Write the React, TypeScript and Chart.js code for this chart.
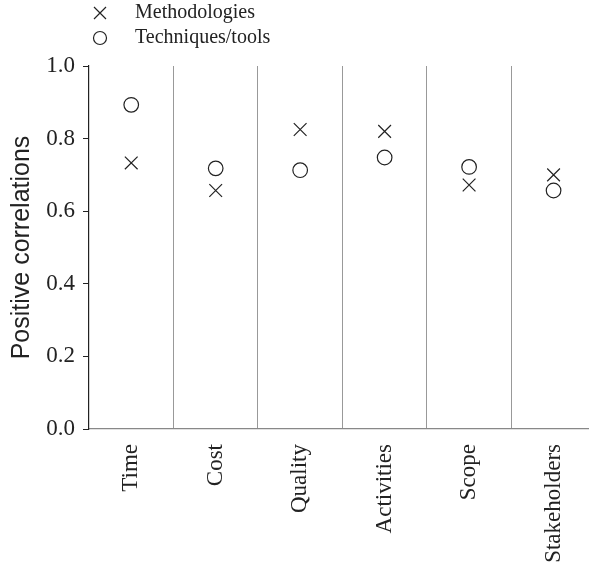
import React, { useEffect, useRef } from "react";
import { Chart, registerables } from "chart.js";

Chart.register(...registerables);

const categories = ["Time", "Cost", "Quality", "Activities", "Scope", "Stakeholders"];
const methodologies = [0.733, 0.657, 0.825, 0.82, 0.672, 0.7];
const techniquesTools = [0.893, 0.718, 0.713, 0.748, 0.722, 0.657];
const yTicks = [0, 0.2, 0.4, 0.6, 0.8, 1.0];
const seriesNames = ["Methodologies", "Techniques/tools"];

const INK = "#222";
const SERIF = "'Liberation Serif', 'Times New Roman', serif";
const SANS = "'Liberation Sans', Arial, sans-serif";

const legendPlugin = {
  id: "customLegend",
  afterDraw(chart: any) {
    const ctx = chart.ctx;
    ctx.save();
    ctx.strokeStyle = INK;
    ctx.lineWidth = 1.2;
    const cx = 100, cy1 = 13, cy2 = 38, h = 6;
    ctx.beginPath();
    ctx.moveTo(cx - h, cy1 - h);
    ctx.lineTo(cx + h, cy1 + h);
    ctx.moveTo(cx + h, cy1 - h);
    ctx.lineTo(cx - h, cy1 + h);
    ctx.stroke();
    ctx.beginPath();
    ctx.arc(cx, cy2, 6.5, 0, Math.PI * 2);
    ctx.fillStyle = "#fff";
    ctx.fill();
    ctx.stroke();
    ctx.fillStyle = INK;
    ctx.font = `20px ${SERIF}`;
    ctx.textBaseline = "middle";
    ctx.textAlign = "left";
    ctx.fillText(seriesNames[0], 135, cy1);
    ctx.fillText(seriesNames[1], 135, cy2);
    ctx.restore();
  },
};

export default function App() {
  const ref = useRef<HTMLCanvasElement>(null);
  useEffect(() => {
    document.body.style.margin = "0";
    const chart = new Chart(ref.current!, {
      type: "line",
      data: {
        labels: categories,
        datasets: [
          {
            label: seriesNames[0],
            data: methodologies,
            showLine: false,
            pointStyle: "crossRot",
            pointRadius: 9,
            pointHoverRadius: 9,
            borderColor: INK,
            backgroundColor: INK,
            pointBorderWidth: 1.2,
          },
          {
            label: seriesNames[1],
            data: techniquesTools,
            showLine: false,
            pointStyle: "circle",
            pointRadius: 7.3,
            pointHoverRadius: 7.3,
            borderColor: INK,
            backgroundColor: "#fff",
            pointBorderWidth: 1.2,
          },
        ],
      },
      options: {
        animation: false,
        responsive: false,
        layout: { padding: { top: 66, right: 4, left: 0, bottom: 0 } },
        plugins: { legend: { display: false }, tooltip: { enabled: false } },
        scales: {
          x: {
            type: "category",
            offset: true,
            grid: {
              offset: true,
              color: "#999",
              lineWidth: 1,
              drawTicks: false,
            },
            border: { color: "#888", width: 1.2 },
            ticks: {
              maxRotation: 90,
              minRotation: 90,
              padding: 15,
              color: INK,
              font: { family: SERIF, size: 23 },
            },
            afterFit(scale: any) {
              scale.height = 137;
            },
          },
          y: {
            min: 0,
            max: 1,
            afterBuildTicks(scale: any) {
              scale.ticks = yTicks.map((v) => ({ value: v }));
            },
            grid: {
              drawOnChartArea: false,
              drawTicks: true,
              tickLength: 6,
              color: INK,
            },
            border: { color: INK, width: 1.2 },
            ticks: {
              padding: 8,
              color: INK,
              font: { family: SERIF, size: 23 },
              callback: (v: any) => Number(v).toFixed(1),
            },
            title: {
              display: true,
              text: "Positive correlations",
              color: INK,
              font: { family: SANS, size: 25 },
              padding: { top: 7, bottom: 0 },
            },
            afterFit(scale: any) {
              scale.width = 89;
            },
          },
        },
      },
      plugins: [legendPlugin],
    });
    return () => chart.destroy();
  }, []);
  return (
    <div style={{ width: 589, height: 566, overflow: "hidden", position: "relative", background: "#fff" }}>
      <canvas ref={ref} width={606} height={566} style={{ display: "block" }} />
    </div>
  );
}
